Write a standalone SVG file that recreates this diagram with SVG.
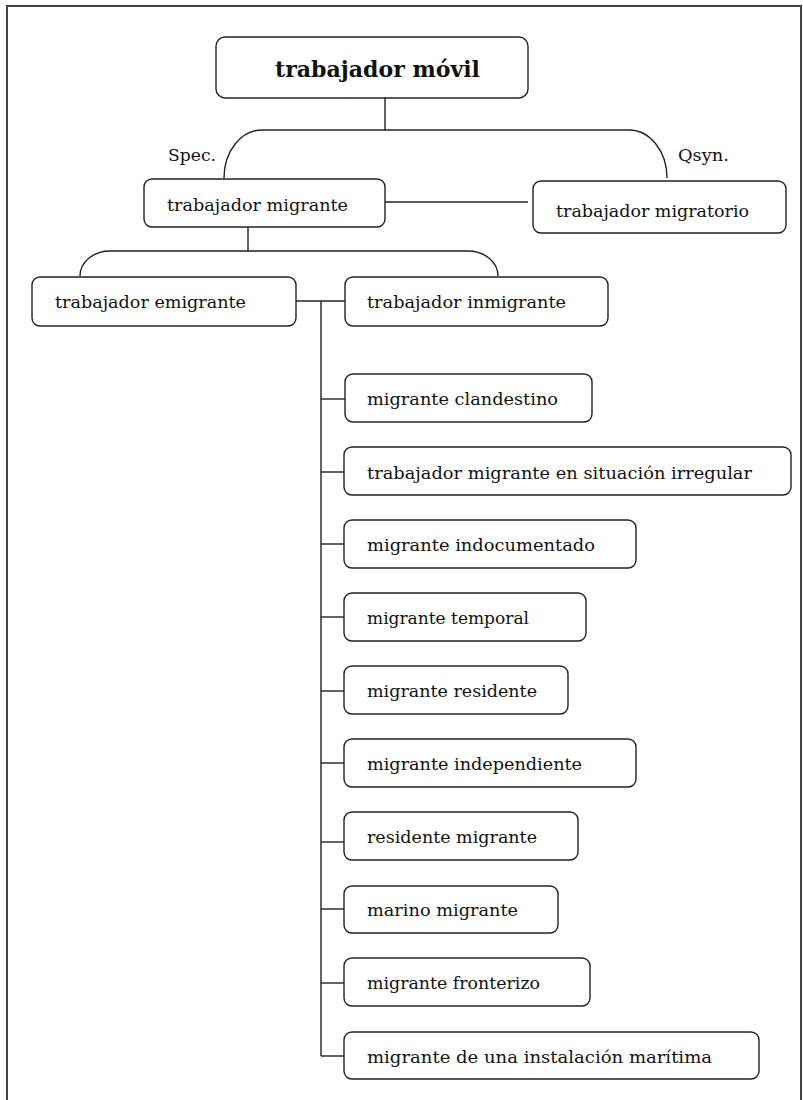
<svg xmlns="http://www.w3.org/2000/svg" width="803" height="1100" viewBox="0 0 803 1100">
<style>
.box{fill:#fff;stroke:#222;stroke-width:1.4}
.t{font-family:"DejaVu Serif","Liberation Serif",serif;font-size:17.5px;fill:#111}
.s{font-family:"DejaVu Serif","Liberation Serif",serif;font-size:17px;fill:#111}
.b{font-family:"DejaVu Serif","Liberation Serif",serif;font-size:22px;font-weight:bold;fill:#111}
.c{fill:none;stroke:#222;stroke-width:1.4}
</style>
<rect x="7" y="6" width="794" height="1110" fill="#fff" stroke="#444" stroke-width="2"/>
<g id="connectors" class="c">
<line x1="385" y1="98" x2="385" y2="130"/>
<path d="M224,178 A38,48 0 0 1 262,130 L629,130 A38,48 0 0 1 667,178"/>
<line x1="385" y1="202" x2="528" y2="202"/>
<line x1="248" y1="227" x2="248" y2="251"/>
<path d="M80,276 A30,25 0 0 1 110,251 L468,251 A30,25 0 0 1 498,276"/>
<line x1="296" y1="301" x2="345" y2="301"/>
<line x1="321" y1="301" x2="321" y2="1056"/>
<line x1="321" y1="399" x2="345" y2="399"/>
<line x1="321" y1="472" x2="344" y2="472"/>
<line x1="321" y1="544" x2="344" y2="544"/>
<line x1="321" y1="617" x2="344" y2="617"/>
<line x1="321" y1="691" x2="344" y2="691"/>
<line x1="321" y1="763" x2="344" y2="763"/>
<line x1="321" y1="842" x2="344" y2="842"/>
<line x1="321" y1="909" x2="344" y2="909"/>
<line x1="321" y1="983" x2="344" y2="983"/>
<line x1="321" y1="1056" x2="344" y2="1056"/>
</g>
<text class="s" x="168" y="161" textLength="48" lengthAdjust="spacingAndGlyphs">Spec.</text>
<text class="s" x="678" y="161" textLength="51" lengthAdjust="spacingAndGlyphs">Qsyn.</text>
<g id="n0"><rect class="box" x="216" y="37" width="312" height="61" rx="9"/><text class="b" x="275" y="77" textLength="205" lengthAdjust="spacingAndGlyphs">trabajador móvil</text></g>
<g id="n1"><rect class="box" x="144" y="179" width="241" height="48" rx="8"/><text class="t" x="167" y="211" textLength="181" lengthAdjust="spacingAndGlyphs">trabajador migrante</text></g>
<g id="n2"><rect class="box" x="533" y="181" width="253" height="52" rx="8"/><text class="t" x="556" y="217" textLength="193" lengthAdjust="spacingAndGlyphs">trabajador migratorio</text></g>
<g id="n3"><rect class="box" x="32" y="277" width="264" height="49" rx="8"/><text class="t" x="55" y="308" textLength="191" lengthAdjust="spacingAndGlyphs">trabajador emigrante</text></g>
<g id="n4"><rect class="box" x="345" y="277" width="263" height="49" rx="8"/><text class="t" x="367" y="308" textLength="199" lengthAdjust="spacingAndGlyphs">trabajador inmigrante</text></g>
<g id="n5"><rect class="box" x="345" y="374" width="247" height="48" rx="8"/><text class="t" x="367" y="405" textLength="191" lengthAdjust="spacingAndGlyphs">migrante clandestino</text></g>
<g id="n6"><rect class="box" x="344" y="447" width="447" height="48" rx="8"/><text class="t" x="367" y="479" textLength="385" lengthAdjust="spacingAndGlyphs">trabajador migrante en situación irregular</text></g>
<g id="n7"><rect class="box" x="344" y="520" width="292" height="48" rx="8"/><text class="t" x="367" y="551" textLength="228" lengthAdjust="spacingAndGlyphs">migrante indocumentado</text></g>
<g id="n8"><rect class="box" x="344" y="593" width="242" height="48" rx="8"/><text class="t" x="367" y="624" textLength="162" lengthAdjust="spacingAndGlyphs">migrante temporal</text></g>
<g id="n9"><rect class="box" x="344" y="666" width="224" height="48" rx="8"/><text class="t" x="367" y="697" textLength="170" lengthAdjust="spacingAndGlyphs">migrante residente</text></g>
<g id="n10"><rect class="box" x="344" y="739" width="292" height="48" rx="8"/><text class="t" x="367" y="770" textLength="215" lengthAdjust="spacingAndGlyphs">migrante independiente</text></g>
<g id="n11"><rect class="box" x="344" y="812" width="234" height="48" rx="8"/><text class="t" x="367" y="843" textLength="170" lengthAdjust="spacingAndGlyphs">residente migrante</text></g>
<g id="n12"><rect class="box" x="344" y="886" width="214" height="47" rx="8"/><text class="t" x="367" y="916" textLength="151" lengthAdjust="spacingAndGlyphs">marino migrante</text></g>
<g id="n13"><rect class="box" x="344" y="958" width="246" height="48" rx="8"/><text class="t" x="367" y="989" textLength="173" lengthAdjust="spacingAndGlyphs">migrante fronterizo</text></g>
<g id="n14"><rect class="box" x="344" y="1032" width="415" height="47" rx="8"/><text class="t" x="367" y="1063" textLength="345" lengthAdjust="spacingAndGlyphs">migrante de una instalación marítima</text></g>
</svg>
